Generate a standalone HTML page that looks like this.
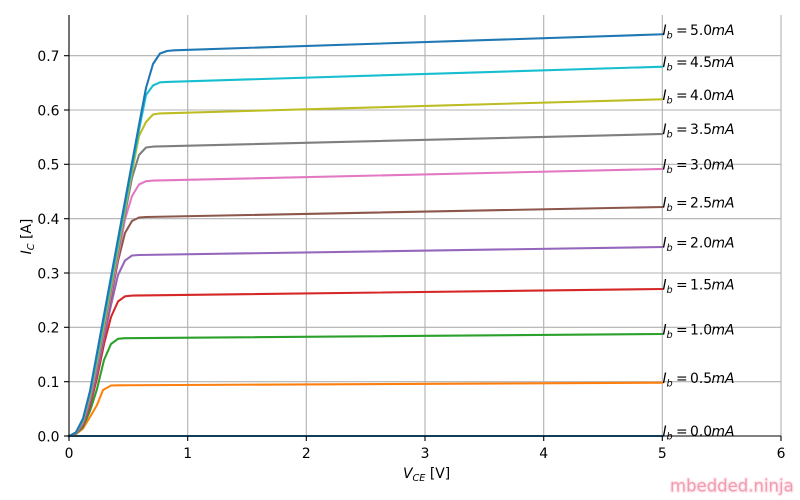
<!DOCTYPE html>
<html><head><meta charset="utf-8"><style>
html,body{margin:0;padding:0;background:#fff;}
svg{display:block;}
text{font-family:"DejaVu Sans","Liberation Sans",sans-serif;fill:#000;}
</style></head><body>
<svg width="800" height="500" viewBox="0 0 800 500" xmlns="http://www.w3.org/2000/svg">
<rect width="800" height="500" fill="#fff"/>
<!-- grid -->
<g stroke="#b0b0b0" stroke-width="1.1" fill="none">
<line x1="187.7" y1="15" x2="187.7" y2="436"/>
<line x1="306.3" y1="15" x2="306.3" y2="436"/>
<line x1="425" y1="15" x2="425" y2="436"/>
<line x1="543.7" y1="15" x2="543.7" y2="436"/>
<line x1="662.3" y1="15" x2="662.3" y2="436"/>
<line x1="781" y1="15" x2="781" y2="436"/>
<line x1="69" y1="381.7" x2="781" y2="381.7"/>
<line x1="69" y1="327.3" x2="781" y2="327.3"/>
<line x1="69" y1="273" x2="781" y2="273"/>
<line x1="69" y1="218.7" x2="781" y2="218.7"/>
<line x1="69" y1="164.3" x2="781" y2="164.3"/>
<line x1="69" y1="110" x2="781" y2="110"/>
<line x1="69" y1="55.7" x2="781" y2="55.7"/>
</g>
<!-- curves -->
<g fill="none" stroke-width="2.08" stroke-linejoin="round" stroke-linecap="square">
<polyline stroke="#1f77b4" points="69,436 662.3,436"/>
<polyline stroke="#ff7f0e" points="69,436 76,434 83,428.5 90,417 97,405 103,390 111,385.5 118,385.3 662.3,382.7"/>
<polyline stroke="#2ca02c" points="69,436 76,433.8 83,427 90,411 97,389 104,360 111,344 118,338.8 125,338.2 662.3,334"/>
<polyline stroke="#d62728" points="69,436 76,433.5 83,425.5 90,406 97,378 104,344 111,317 118,301.5 125,296.3 132,295.6 662.3,289"/>
<polyline stroke="#9467bd" points="69,436 76,433.3 83,424.5 90,403 97,373 104,338 111,305 118,275 125,260.5 132,255.5 139,255 662.3,247"/>
<polyline stroke="#8c564b" points="69,436 76,433.1 83,423.5 90,401 97,369 104,334 111,297.5 118,261 125,233 132,221 139,217.5 146,217 662.3,207"/>
<polyline stroke="#e377c2" points="69,436 76,433 83,422.5 90,399 97,366 104,331 111,293.5 118,256.5 125,219.5 132,196 139,184.5 146,181.2 153,180.6 662.3,169"/>
<polyline stroke="#7f7f7f" points="69,436 76,432.8 83,421.5 90,397 97,363 104,327.5 111,289.5 118,252 125,214 132,178 139,155 146,147.5 153,146.6 662.3,134"/>
<polyline stroke="#bcbd22" points="69,436 76,432.6 83,420.5 90,395 97,360 104,323.5 111,285.5 118,247.5 125,209.5 132,172 139,136 146,122 153,114.5 160,113.4 662.3,99.3"/>
<polyline stroke="#17becf" points="69,436 76,432.4 83,419.5 90,393 97,357 104,319.5 111,281.5 118,243.5 125,205.5 132,167.5 139,130 146,95 153,85.5 160,82.3 167,81.9 662.3,66.7"/>
<polyline stroke="#1f77b4" points="69,436.5 76,432.2 83,418.5 90,391 97,353 104,315 111,277 118,239 125,201 132,163 139,125 146,88 153,64 160,53.5 167,51 174,50.3 662.3,34.3"/>
</g>
<!-- spines & ticks -->
<g stroke="#000" stroke-width="1.1" fill="none">
<line x1="69" y1="15" x2="69" y2="436.5"/>
<line x1="68.5" y1="436" x2="781" y2="436"/>
<line x1="69" y1="436" x2="69" y2="441"/>
<line x1="187.7" y1="436" x2="187.7" y2="441"/>
<line x1="306.3" y1="436" x2="306.3" y2="441"/>
<line x1="425" y1="436" x2="425" y2="441"/>
<line x1="543.7" y1="436" x2="543.7" y2="441"/>
<line x1="662.3" y1="436" x2="662.3" y2="441"/>
<line x1="781" y1="436" x2="781" y2="441"/>
<line x1="64" y1="436" x2="69" y2="436"/>
<line x1="64" y1="381.7" x2="69" y2="381.7"/>
<line x1="64" y1="327.3" x2="69" y2="327.3"/>
<line x1="64" y1="273" x2="69" y2="273"/>
<line x1="64" y1="218.7" x2="69" y2="218.7"/>
<line x1="64" y1="164.3" x2="69" y2="164.3"/>
<line x1="64" y1="110" x2="69" y2="110"/>
<line x1="64" y1="55.7" x2="69" y2="55.7"/>
</g>
<!-- tick labels -->
<g font-size="13.9" text-anchor="end">
<text x="59.5" y="441.3">0.0</text>
<text x="59.5" y="387">0.1</text>
<text x="59.5" y="332.6">0.2</text>
<text x="59.5" y="278.3">0.3</text>
<text x="59.5" y="224">0.4</text>
<text x="59.5" y="169.6">0.5</text>
<text x="59.5" y="115.3">0.6</text>
<text x="59.5" y="61">0.7</text>
</g>
<g font-size="13.9" text-anchor="middle">
<text x="69" y="458">0</text>
<text x="187.7" y="458">1</text>
<text x="306.3" y="458">2</text>
<text x="425" y="458">3</text>
<text x="543.7" y="458">4</text>
<text x="662.3" y="458">5</text>
<text x="781" y="458">6</text>
</g>
<!-- axis labels -->
<text font-size="13.9" x="403" y="478"><tspan font-style="italic">V</tspan><tspan font-style="italic" font-size="9.7" dy="3">CE</tspan><tspan dy="-3"> [V]</tspan></text>
<text font-size="13.9" transform="translate(31,236.5) rotate(-90)" text-anchor="middle"><tspan font-style="italic">I</tspan><tspan font-style="italic" font-size="9.7" dy="3">C</tspan><tspan dy="-3"> [A]</tspan></text>
<!-- annotations -->
<g font-size="13.9">
<text y="35"><tspan x="662.5" font-style="italic">I</tspan><tspan x="666.5" font-style="italic" font-size="9.7" dy="3.5">b</tspan><tspan x="676" dy="-3.5">=</tspan><tspan x="690">5.0</tspan><tspan x="711.5" font-style="italic">mA</tspan></text>
<text y="67"><tspan x="662.5" font-style="italic">I</tspan><tspan x="666.5" font-style="italic" font-size="9.7" dy="3.5">b</tspan><tspan x="676" dy="-3.5">=</tspan><tspan x="690">4.5</tspan><tspan x="711.5" font-style="italic">mA</tspan></text>
<text y="100"><tspan x="662.5" font-style="italic">I</tspan><tspan x="666.5" font-style="italic" font-size="9.7" dy="3.5">b</tspan><tspan x="676" dy="-3.5">=</tspan><tspan x="690">4.0</tspan><tspan x="711.5" font-style="italic">mA</tspan></text>
<text y="134"><tspan x="662.5" font-style="italic">I</tspan><tspan x="666.5" font-style="italic" font-size="9.7" dy="3.5">b</tspan><tspan x="676" dy="-3.5">=</tspan><tspan x="690">3.5</tspan><tspan x="711.5" font-style="italic">mA</tspan></text>
<text y="169.5"><tspan x="662.5" font-style="italic">I</tspan><tspan x="666.5" font-style="italic" font-size="9.7" dy="3.5">b</tspan><tspan x="676" dy="-3.5">=</tspan><tspan x="690">3.0</tspan><tspan x="711.5" font-style="italic">mA</tspan></text>
<text y="207.5"><tspan x="662.5" font-style="italic">I</tspan><tspan x="666.5" font-style="italic" font-size="9.7" dy="3.5">b</tspan><tspan x="676" dy="-3.5">=</tspan><tspan x="690">2.5</tspan><tspan x="711.5" font-style="italic">mA</tspan></text>
<text y="247.5"><tspan x="662.5" font-style="italic">I</tspan><tspan x="666.5" font-style="italic" font-size="9.7" dy="3.5">b</tspan><tspan x="676" dy="-3.5">=</tspan><tspan x="690">2.0</tspan><tspan x="711.5" font-style="italic">mA</tspan></text>
<text y="289.5"><tspan x="662.5" font-style="italic">I</tspan><tspan x="666.5" font-style="italic" font-size="9.7" dy="3.5">b</tspan><tspan x="676" dy="-3.5">=</tspan><tspan x="690">1.5</tspan><tspan x="711.5" font-style="italic">mA</tspan></text>
<text y="334.5"><tspan x="662.5" font-style="italic">I</tspan><tspan x="666.5" font-style="italic" font-size="9.7" dy="3.5">b</tspan><tspan x="676" dy="-3.5">=</tspan><tspan x="690">1.0</tspan><tspan x="711.5" font-style="italic">mA</tspan></text>
<text y="383"><tspan x="662.5" font-style="italic">I</tspan><tspan x="666.5" font-style="italic" font-size="9.7" dy="3.5">b</tspan><tspan x="676" dy="-3.5">=</tspan><tspan x="690">0.5</tspan><tspan x="711.5" font-style="italic">mA</tspan></text>
<text y="436"><tspan x="662.5" font-style="italic">I</tspan><tspan x="666.5" font-style="italic" font-size="9.7" dy="3.5">b</tspan><tspan x="676" dy="-3.5">=</tspan><tspan x="690">0.0</tspan><tspan x="711.5" font-style="italic">mA</tspan></text>
</g>
<!-- watermark -->
<text x="670" y="491.5" font-size="16.5" style="fill:#f29ab0;stroke:#fde8ee;stroke-width:2.5;paint-order:stroke;stroke-linejoin:round">mbedded.ninja</text>
</svg>
</body></html>
